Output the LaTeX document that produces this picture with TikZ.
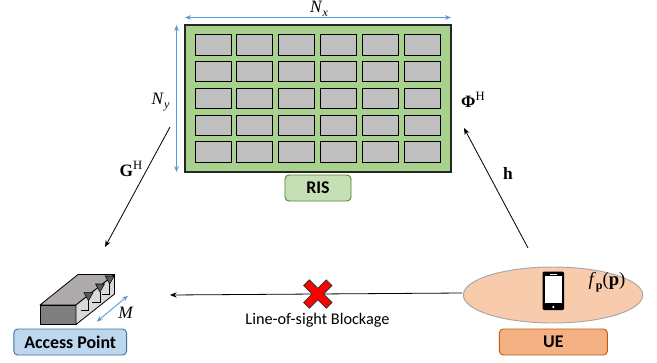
\documentclass[tikz,border=0pt]{standalone}
\usepackage{fontspec}
\setmainfont{Carlito}
\newfontfamily\symfont{Liberation Serif}
\usetikzlibrary{arrows.meta,shapes.geometric}
\definecolor{blueline}{HTML}{5B9BD5}
\definecolor{cellgray}{HTML}{BFBFBF}
\definecolor{panelgreen}{HTML}{A9D18E}
\definecolor{taggreen}{HTML}{C5E0B4}
\definecolor{edgegreen}{HTML}{548235}
\definecolor{tagblue}{HTML}{BDD7EE}
\definecolor{edgeblue}{HTML}{41719C}
\definecolor{tagorange}{HTML}{F4B183}
\definecolor{edgeorange}{HTML}{C55A11}
\definecolor{ellfill}{HTML}{F8CBAD}
\definecolor{elledge}{HTML}{A6A6A6}
\definecolor{aptop}{HTML}{AFABAB}
\definecolor{apfront}{HTML}{7F7F7F}
\definecolor{apside}{HTML}{D9D9D9}
\definecolor{anthead}{HTML}{595959}
\newcommand{\hisup}[1]{\raisebox{0.42em}{\fontsize{9.5}{10}\selectfont #1}}
\newcommand{\losub}[1]{\raisebox{-0.22em}{\fontsize{9}{10}\selectfont #1}}
\tikzset{
  px/.style={x=0.75pt,y=-0.75pt},
  cell/.style={draw=black,line width=0.75pt,fill=cellgray,minimum width=27pt,minimum height=15.6pt,inner sep=0pt},
  tag/.style={draw,rounded corners=3pt,line width=0.7pt,inner sep=0pt,font=\fontsize{13.4}{14}\selectfont\bfseries,text=black},
  link/.style={draw=black,line width=0.6pt,-{Stealth[length=5pt,width=4pt]}},
  span/.style={draw=blueline,line width=0.65pt,{Stealth[length=4.5pt,width=3.5pt]}-{Stealth[length=4.5pt,width=3.5pt]}},
  lab/.style={inner sep=0pt,font=\symfont\fontsize{13}{14}\selectfont},
}
\begin{document}
\begin{tikzpicture}[px]
\useasboundingbox (0,0) rectangle (657,362);
% RIS panel
\node[draw=black!85,line width=1pt,fill=panelgreen,minimum width=199.5pt,minimum height=110.2pt,inner sep=0pt] (panel) at (318,98.5) {};
\foreach \cx in {213,254.6,296,338,380.6,422.5}
  \foreach \cy in {44.7,71.5,98.4,125.4,152.2}
    \node[cell] at (\cx,\cy) {};
\node[tag,draw=edgegreen,fill=taggreen,minimum width=49.5pt,minimum height=19.5pt] (ristag) at (318,188) {RIS};
% extent arrows
\coordinate (nxa) at (185,17.5); \coordinate (nxb) at (451,17.5);
\coordinate (nya) at (176.5,25); \coordinate (nyb) at (176.5,172);
\draw[span] (nxa) -- (nxb);
\draw[span] (nya) -- (nyb);
\node[lab] (nx) at (319,9) {\textit{N}\losub{\textit{x}}};
\node[lab] (ny) at (160.5,102) {\textit{N}\losub{\textit{y}}};
% access point
\filldraw[fill=aptop,draw=black,line width=0.6pt,line join=round] (40,305) -- (78,274.5) -- (114.5,274.5) -- (76,305) -- cycle;
\filldraw[fill=apfront,draw=black,line width=0.6pt,line join=round] (40,305) rectangle (76,324.5);
\filldraw[fill=apside,draw=black,line width=0.6pt,line join=round] (76,305) -- (114.5,274.5) -- (114.5,294) -- (76,324.5) -- cycle;
\foreach \ax/\ay in {88.5/300.7,100/292,109.7/284}{
  \draw[black,line width=0.6pt] (\ax,\ay) -- (\ax,\ay+10) -- (\ax-8,\ay+10);
  \filldraw[fill=anthead,draw=black,line width=0.4pt] (\ax-4.5,\ay-8) -- (\ax+4.5,\ay-8) -- (\ax,\ay) -- cycle;
}
\coordinate (ma) at (96.7,321.7); \coordinate (mb) at (128,295.7);
\draw[span] (ma) -- (mb);
\node[lab] (m) at (126,313) {\textit{M}};
\node[tag,draw=edgeblue,fill=tagblue,minimum width=84.5pt,minimum height=19.5pt] (aptag) at (70.2,342) {Access Point};
% UE
\node[ellipse,draw=elledge,line width=0.7pt,fill=ellfill,minimum width=134.5pt,minimum height=42pt,inner sep=0pt] (ue) at (553,295) {};
\fill[black,rounded corners=0.8pt] (542.7,271.7) rectangle (564,310);
\fill[white] (545,276) rectangle (561.5,303);
\fill[white] (553.3,307) circle (1.2);
\draw[white,line width=0.5pt] (550,274) -- (557,274);
\node[lab,font=\symfont\fontsize{14}{15}\selectfont] (fp) at (607,282) {\textit{f}\losub{\textbf{p}}(\textbf{p})};
\node[tag,draw=edgeorange,fill=tagorange,minimum width=81pt,minimum height=19.5pt] (uetag) at (553.4,342) {UE};
% links
\coordinate (ga) at (170,127); \coordinate (gb) at (105,247);
\coordinate (ha) at (528,248); \coordinate (hb) at (464,128);
\coordinate (la) at (462,293); \coordinate (lb) at (170,295);
\draw[link] (ga) -- (gb);
\draw[link] (ha) -- (hb);
\draw[link] (la) -- (lb);
\node[lab] (g) at (131,169) {\textbf{G}\hisup{H}};
\node[lab] (phi) at (473,100) {\textbf{Φ}\hisup{H}};
\node[lab] (h) at (508,173) {\textbf{h}};
% blockage cross
\draw[draw=black!80,line width=0.6pt,fill=red,line join=miter,shift={(317.8,294)},rotate=45]
  (-4,-16) -- (4,-16) -- (4,-4) -- (16,-4) -- (16,4) -- (4,4) -- (4,16) -- (-4,16) -- (-4,4) -- (-16,4) -- (-16,-4) -- (-4,-4) -- cycle;
\node[inner sep=0pt,font=\fontsize{12.2}{13}\selectfont] (los) at (317.5,320) {Line-of-sight Blockage};
\end{tikzpicture}
\end{document}
